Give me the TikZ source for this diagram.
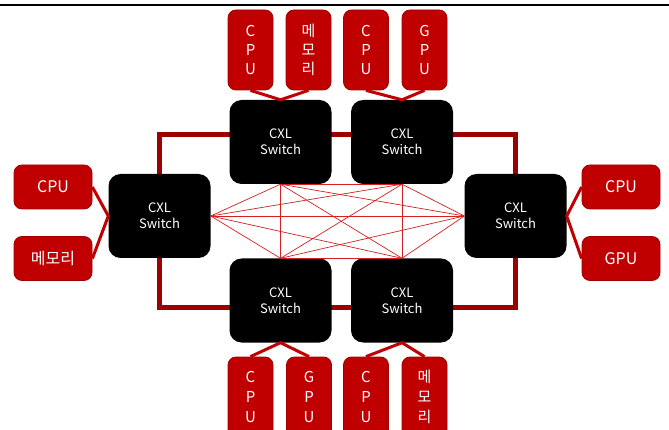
\documentclass[tikz,border=0pt]{standalone}
\usepackage{fontspec}
\setmainfont{Noto Sans CJK KR}
\usepackage{xcolor}
\definecolor{boxred}{HTML}{C00000}
\definecolor{edgered}{HTML}{A00000}
\definecolor{ringred}{HTML}{9C0000}
\definecolor{meshred}{HTML}{D42020}
\begin{document}
\begin{tikzpicture}[x=1pt, y=-1pt,
  every node/.style={inner sep=0pt, text=white},
  switchbox/.style={rectangle, rounded corners=12pt, fill=black, minimum width=102pt, minimum height=84pt, align=center, font=\fontsize{13}{16}\selectfont},
  wideunit/.style={rectangle, rounded corners=8pt, fill=boxred, draw=edgered, line width=0.8pt, minimum width=78pt, minimum height=44pt, font=\fontsize{16}{19}\selectfont},
  tallunit/.style={rectangle, rounded corners=8pt, fill=boxred, draw=edgered, line width=0.8pt, minimum width=45pt, minimum height=80pt, align=center, font=\fontsize{15}{19}\selectfont},
  link/.style={draw=boxred, line width=3pt},
  mesh/.style={draw=meshred, line width=0.7pt}]
\useasboundingbox (0,0) rectangle (669,430);
% top rule
\draw[line width=2.5pt] (0,5) -- (669,5);
% ring behind switches
\draw[ringred, line width=5pt] (159,135) rectangle (515.5,307);
% switches
\node[switchbox] (swL) at (159.5,216) {CXL\\Switch};
\node[switchbox] (swR) at (515.5,216) {CXL\\Switch};
\node[switchbox] (swTL) at (280.5,142) {CXL\\Switch};
\node[switchbox] (swTR) at (402,142) {CXL\\Switch};
\node[switchbox] (swBL) at (280.5,300.5) {CXL\\Switch};
\node[switchbox] (swBR) at (402,300.5) {CXL\\Switch};
% full mesh between switches
\coordinate (mL) at (swL.east);
\coordinate (mR) at (swR.west);
\coordinate (mTL) at (swTL.south);
\coordinate (mTR) at (swTR.south);
\coordinate (mBL) at (swBL.north);
\coordinate (mBR) at (swBR.north);
\foreach \a/\b in {mL/mR, mL/mTL, mL/mTR, mL/mBL, mL/mBR, mR/mTL, mR/mTR, mR/mBL, mR/mBR, mTL/mTR, mTL/mBL, mTL/mBR, mTR/mBL, mTR/mBR, mBL/mBR}
  \draw[mesh] (\a) -- (\b);
% side units
\node[wideunit] (cpuL) at (53,187) {CPU};
\node[wideunit] (memL) at (53,258.5) {메모리};
\node[wideunit] (cpuR) at (621,187) {CPU};
\node[wideunit] (gpuR) at (621,258.5) {GPU};
% top units
\node[tallunit] (cpuT1) at (250.5,50) {C\\P\\U};
\node[tallunit] (memT) at (308.5,50) {메\\모\\리};
\node[tallunit] (cpuT2) at (366,50) {C\\P\\U};
\node[tallunit] (gpuT) at (424.5,50) {G\\P\\U};
% bottom units
\node[tallunit, font=\fontsize{15}{20}\selectfont] (cpuB1) at (250.5,397) {C\\P\\U};
\node[tallunit, font=\fontsize{15}{20}\selectfont] (gpuB) at (309,397) {G\\P\\U};
\node[tallunit, font=\fontsize{15}{20}\selectfont] (cpuB2) at (366,397) {C\\P\\U};
\node[tallunit, font=\fontsize{15}{20}\selectfont] (memB) at (424.5,397) {메\\모\\리};
% links
\draw[link] (cpuL.east) -- (swL.west) -- (memL.east);
\draw[link] (cpuR.west) -- (swR.east) -- (gpuR.west);
\draw[link] (cpuT1.south) -- (swTL.north) -- (memT.south);
\draw[link] (cpuT2.south) -- (swTR.north) -- (gpuT.south);
\draw[link] (cpuB1.north) -- (swBL.south) -- (gpuB.north);
\draw[link] (cpuB2.north) -- (swBR.south) -- (memB.north);
\end{tikzpicture}
\end{document}
